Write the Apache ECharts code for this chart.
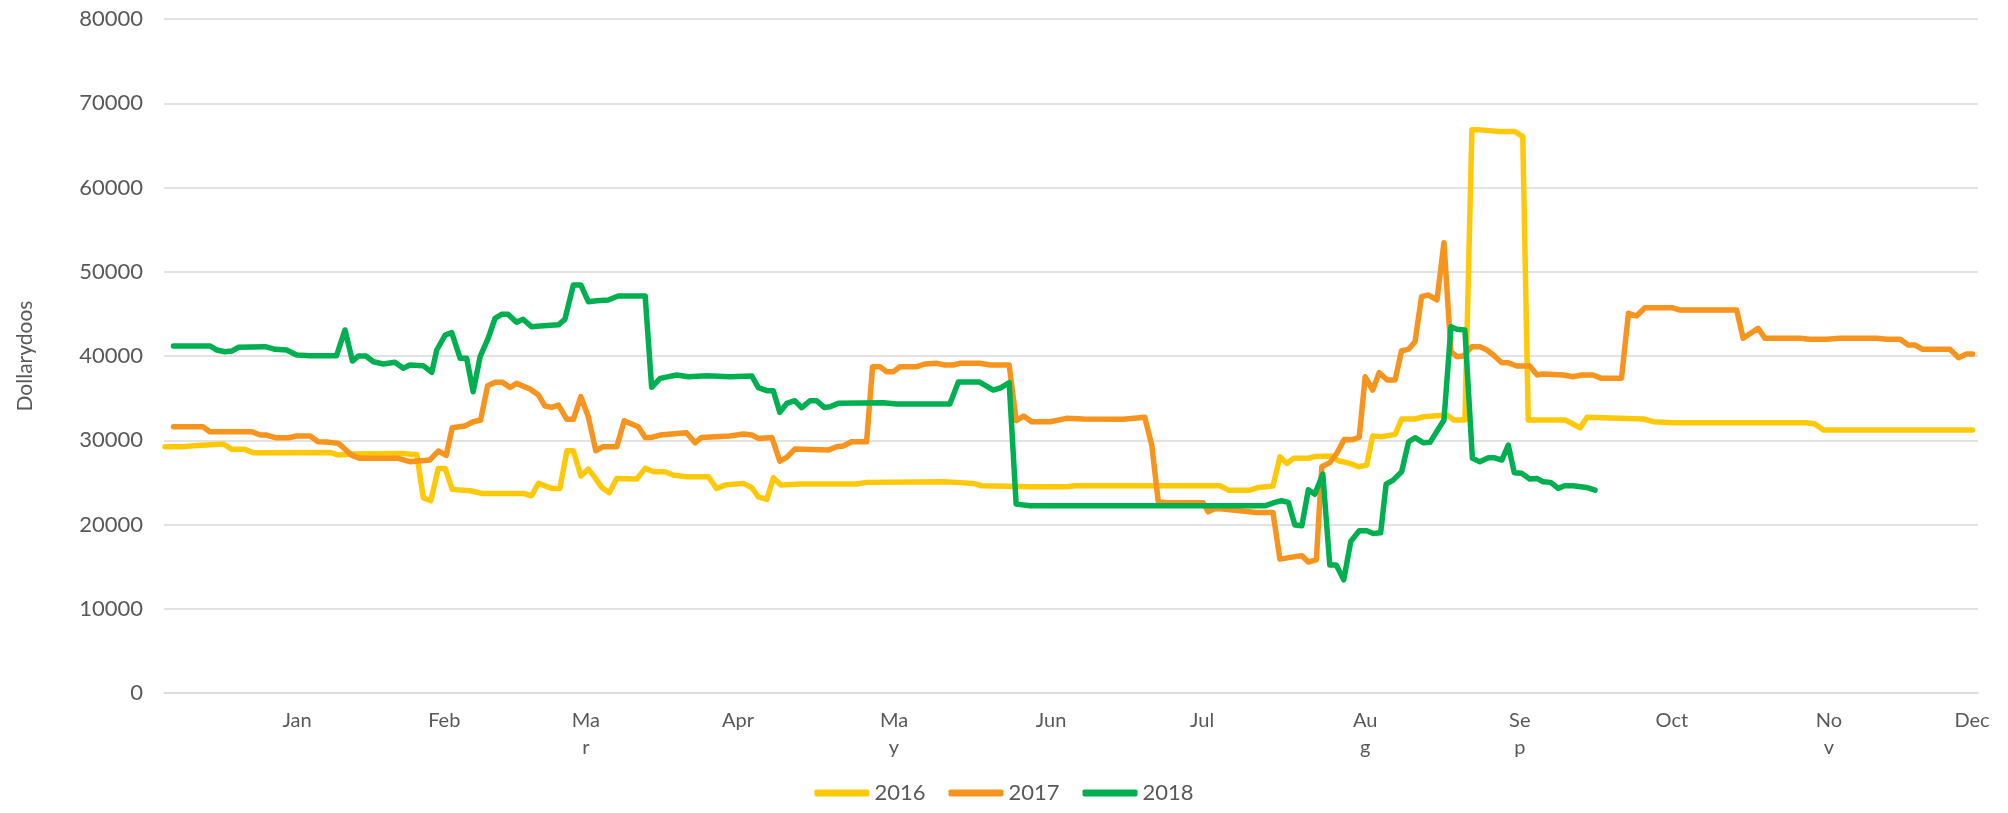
<!DOCTYPE html>
<html>
<head>
  <meta charset="utf-8">
  <title>Dollarydoos</title>
  <script src="https://cdn.jsdelivr.net/npm/echarts@6/dist/echarts.min.js"></script>
  <style>
    html, body { margin: 0; padding: 0; background: #fff; }
    #main { width: 2008px; height: 813px; }
  </style>
</head>
<body>
  <div id="main"></div>
  <script>
  // day-of-year positions where the month labels sit, and their (wrapped) text
  var monthPos = [26.7, 56.2, 84.6, 115.1, 146.4, 177.9, 208.2, 240.9, 271.9, 302.4, 333.9, 362.6];
  var monthLabels = ['Jan', 'Feb', 'Ma\nr', 'Apr', 'Ma\ny', 'Jun', 'Jul', 'Au\ng', 'Se\np', 'Oct', 'No\nv', 'Dec'];
  var seriesNames = ['2016', '2017', '2018'];

  // [day, value] at each change
  var data2016 = [
    [0.2,29230],[3.9,29230],[5.9,29350],[11.9,29550],[13.6,28920],[16.2,28920],[17.9,28510],[33.3,28560],
    [35.0,28240],[37.6,28360],[48.0,28440],[49.7,28320],[50.7,28320],[52.0,23170],[53.5,22810],[55.0,26660],
    [56.4,26660],[57.8,24170],[61.4,24000],[63.7,23690],[72.1,23690],[73.7,23410],[75.1,24880],[77.8,24280],
    [79.4,24280],[80.8,28750],[82.1,28750],[83.6,25750],[85.1,26580],[86.4,25590],[87.8,24400],[89.3,23770],
    [90.8,25470],[94.8,25390],[96.5,26660],[98.2,26260],[100.5,26260],[102.1,25870],[104.8,25660],[109.2,25660],
    [110.8,24280],[112.5,24680],[116.2,24880],[117.9,24360],[119.2,23290],[120.9,22980],[122.2,25550],[123.7,24680],
    [127.6,24800],[138.9,24800],[140.9,25000],[156.3,25070],[159.0,25000],[162.3,24880],[164.0,24600],[173.7,24480],
    [181.0,24480],[182.7,24600],[211.8,24600],[213.5,24080],[217.8,24080],[219.5,24400],[222.4,24560],[223.8,28040],
    [225.2,27250],[226.5,27850],[229.5,27850],[230.8,28080],[234.2,28140],[235.5,27570],[237.8,27250],[239.6,26850],
    [241.2,27050],[242.4,30500],[244.2,30420],[246.9,30700],[248.2,32520],[250.9,32520],[252.6,32790],[257.3,32990],
    [258.7,32400],[260.9,32400],[262.3,66840],[263.9,66840],[267.9,66640],[270.9,66640],[272.5,66050],[273.6,32400],
    [281.0,32400],[284.0,31490],[285.4,32720],[296.7,32520],[298.7,32200],[302.7,32080],[329.4,32080],[331.1,31920],
    [332.8,31210],[362.7,31210]
  ];
  var data2017 = [
    [1.9,31600],[7.8,31600],[9.2,31010],[17.6,31010],[19.3,30620],[20.6,30620],[22.3,30300],[24.9,30300],
    [26.6,30500],[29.3,30500],[30.9,29820],[32.6,29780],[35.0,29630],[37.6,28240],[39.3,27850],[47.0,27850],
    [49.3,27450],[53.3,27650],[55.0,28720],[56.6,28200],[57.8,31480],[60.3,31680],[62.0,32200],[63.5,32400],
    [64.9,36470],[66.4,36870],[67.9,36870],[69.4,36280],[70.7,36750],[73.4,36080],[75.1,35370],[76.4,34060],
    [77.8,33900],[79.1,34180],[80.8,32480],[82.1,32480],[83.6,35170],[85.1,32790],[86.6,28750],[88.0,29230],
    [90.8,29230],[92.3,32320],[93.5,32000],[95.1,31600],[96.5,30340],[97.8,30340],[99.5,30620],[104.8,30890],
    [106.5,29700],[107.8,30340],[113.5,30500],[116.2,30740],[117.9,30620],[119.2,30220],[121.9,30340],[123.5,27530],
    [124.9,27970],[126.5,28950],[133.2,28830],[134.9,29230],[136.2,29310],[137.9,29820],[140.9,29820],[142.1,38730],
    [143.6,38730],[144.9,38140],[146.3,38140],[147.6,38730],[151.0,38730],[152.6,39050],[155.0,39130],[156.6,38930],
    [158.3,38930],[159.6,39130],[163.6,39130],[165.7,38930],[169.5,38930],[170.9,32320],[172.4,32870],[174.0,32200],
    [177.7,32200],[181.0,32600],[184.4,32520],[192.4,32480],[196.7,32720],[198.1,29430],[199.4,22700],[201.1,22580],
    [208.4,22580],[209.4,21510],[210.8,21910],[212.4,21830],[219.1,21430],[222.4,21430],[223.8,15890],[226.5,16160],
    [228.2,16300],[229.5,15550],[231.1,15800],[232.2,26850],[233.8,27350],[235.2,28440],[236.7,30100],[238.2,30050],
    [239.7,30340],[240.9,37540],[242.4,35960],[243.7,38020],[245.3,37150],[246.9,37150],[248.2,40630],[249.6,40790],
    [250.9,41700],[252.2,47040],[253.6,47240],[255.3,46650],[256.7,53450],[258.1,40510],[259.3,39920],[260.6,40000],
    [262.3,41110],[263.9,41110],[265.3,40710],[266.6,40120],[268.3,39200],[269.6,39200],[271.3,38810],[273.9,38810],
    [275.4,37740],[276.6,37860],[280.6,37740],[282.6,37540],[284.3,37740],[286.6,37740],[288.3,37350],[292.3,37350],
    [293.7,45070],[295.3,44750],[297.0,45730],[302.4,45730],[304.0,45460],[315.4,45460],[316.7,42100],[319.7,43290],
    [321.1,42100],[328.1,42100],[330.1,41980],[333.5,41980],[336.1,42100],[343.5,42100],[345.5,41980],[348.2,41980],
    [349.8,41300],[351.2,41300],[352.7,40790],[358.2,40790],[359.9,39800],[361.5,40230],[362.7,40230]
  ];
  var data2018 = [
    [1.9,41190],[9.2,41190],[10.6,40710],[12.2,40510],[13.6,40590],[14.9,41030],[20.3,41110],[22.3,40790],
    [24.6,40710],[26.6,40120],[29.3,40030],[34.6,40030],[36.3,43090],[37.8,39400],[39.0,40000],[40.5,40000],
    [42.0,39320],[44.0,39050],[46.3,39250],[48.0,38540],[49.3,38930],[52.0,38850],[53.7,38060],[54.7,40710],
    [56.4,42490],[57.7,42770],[59.4,39720],[60.7,39720],[62.0,35760],[63.4,39920],[65.0,42100],[66.4,44480],
    [67.7,44950],[69.0,44950],[70.7,44000],[72.0,44360],[73.7,43480],[75.4,43560],[79.1,43700],[80.4,44350],
    [82.1,48430],[83.6,48430],[85.1,46450],[86.8,46570],[89.1,46650],[91.1,47120],[96.5,47120],[97.8,36280],
    [99.5,37350],[102.8,37740],[105.2,37540],[108.8,37660],[113.5,37540],[117.9,37620],[119.2,36240],[120.9,35880],
    [122.2,35880],[123.5,33310],[124.9,34380],[126.5,34690],[127.9,33860],[129.6,34690],[130.9,34690],[132.4,33900],
    [133.6,33980],[135.2,34380],[144.3,34450],[146.9,34300],[157.6,34300],[159.3,36900],[163.6,36900],[166.3,35960],
    [167.7,36200],[169.5,36830],[170.9,22420],[173.7,22220],[220.8,22220],[222.8,22620],[224.1,22820],[225.5,22620],
    [226.8,19930],[228.2,19850],[229.5,24130],[230.8,23590],[232.4,25980],[233.8,15180],[235.1,15180],[236.6,13440],
    [238.0,17990],[239.7,19250],[241.2,19250],[242.5,18940],[244.0,19010],[245.1,24800],[246.5,25270],[248.2,26260],
    [249.6,29820],[250.9,30300],[252.6,29700],[253.9,29750],[256.7,32400],[258.1,43480],[259.3,43170],[260.9,43090],
    [262.4,27850],[263.9,27450],[265.6,27920],[266.9,27920],[268.3,27650],[269.6,29430],[270.8,26140],[272.3,26070],
    [273.9,25390],[275.3,25470],[276.6,25070],[278.1,25000],[279.6,24290],[280.9,24600],[282.6,24600],[285.3,24400],
    [287.0,24080]
  ];

  var colors = ['#FFC90A', '#F7941D', '#00B050'];
  var textColor = '#595959';
  var fontFamily = 'Lato, "Open Sans", sans-serif';

  var chart = echarts.init(document.getElementById('main'));

  function makeSeries(name, data, i) {
    return {
      name: name,
      type: 'line',
      data: data,
      showSymbol: false,
      symbol: 'none',
      color: colors[i],
      lineStyle: { width: 5.5, color: colors[i], cap: 'round', join: 'round' },
      emphasis: { disabled: true }
    };
  }

  chart.setOption({
    animation: false,
    textStyle: { fontFamily: fontFamily },
    grid: { left: 164, right: 30, top: 19, bottom: 120, containLabel: false },
    legend: {
      data: seriesNames,
      bottom: 4,
      left: 'center',
      itemWidth: 55,
      itemHeight: 7,
      itemGap: 23,
      icon: 'roundRect',
      textStyle: { color: textColor, fontSize: 22, fontFamily: fontFamily }
    },
    xAxis: {
      type: 'value',
      min: 0,
      max: 363.8,
      splitLine: { show: false },
      axisTick: { show: false },
      axisLine: { show: true, lineStyle: { color: '#D9D9D9', width: 1.5 } },
      axisLabel: {
        customValues: monthPos,
        color: textColor,
        fontSize: 20,
        lineHeight: 27,
        margin: 14,
        align: 'center',
        formatter: function (v) {
          var best = 0;
          for (var i = 1; i < monthPos.length; i++) {
            if (Math.abs(monthPos[i] - v) < Math.abs(monthPos[best] - v)) best = i;
          }
          return monthLabels[best];
        }
      }
    },
    yAxis: {
      type: 'value',
      min: 0,
      max: 80000,
      interval: 10000,
      name: 'Dollarydoos',
      nameLocation: 'middle',
      nameGap: 128,
      nameTextStyle: { color: textColor, fontSize: 21, fontFamily: fontFamily },
      axisLine: { show: false },
      axisTick: { show: false },
      axisLabel: {
        color: textColor,
        fontSize: 22,
        margin: 21,
        formatter: function (v) { return String(v); }
      },
      splitLine: { lineStyle: { color: '#D9D9D9', width: 1.5 } }
    },
    series: [
      makeSeries(seriesNames[0], data2016, 0),
      makeSeries(seriesNames[1], data2017, 1),
      makeSeries(seriesNames[2], data2018, 2)
    ]
  });
  </script>
</body>
</html>
